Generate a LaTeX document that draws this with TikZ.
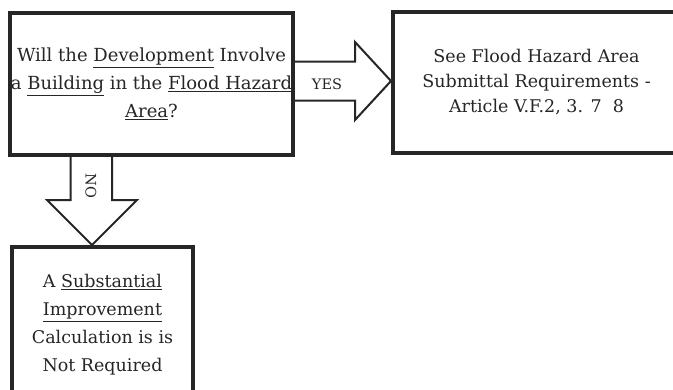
\documentclass[tikz,border=0pt]{standalone}
\usepackage{fontspec}
\setmainfont{DejaVu Serif}
\usetikzlibrary{calc,positioning}
\definecolor{ink}{HTML}{262626}
\tikzset{
  box/.style        = {draw=ink, line width=4pt, fill=white, align=center,
                       text=ink, inner sep=0pt, font=\fontsize{17.5}{28}\selectfont},
  blockarrow/.style = {draw=ink, line width=2pt, fill=white, line join=miter},
  arrowlabel/.style = {text=ink, font=\fontsize{14.5}{16}\selectfont},
}

\begin{document}
\begin{tikzpicture}[x=1pt,y=-1pt]
  \clip (0,0) rectangle (673,389);
  \fill[white] (0,0) rectangle (673,389);

  % decision and outcome boxes
  \node[box, minimum width=283pt, minimum height=142pt,
        font=\fontsize{18}{28}\selectfont] (question) at (151.5,84)
    {Will the \underline{Development} Involve\\
     a \underline{Building} in the \underline{Flood Hazard}\\
     \underline{Area}?};
  \node[box, minimum width=287pt, minimum height=141pt,
        font=\fontsize{17.5}{25}\selectfont] (floodreq) at (536.5,82.5)
    {See Flood Hazard Area\\ Submittal Requirements -\\ Article V.F.2, 3. 7~~8};
  \node[box, minimum width=181pt, minimum height=156pt] (subcalc) at (102.5,325)
    {A \underline{Substantial}\\ \underline{Improvement}\\ Calculation is is\\ Not Required};

  % yes arrow
  \draw[blockarrow] (question.east |- 0,61.5) -- (355,61.5) -- (355,42)
    -- (floodreq.west |- 0,81) -- (355,120) -- (355,100.5) -- (question.east |- 0,100.5);
  \node[arrowlabel] (yes) at (327,84) {YES};

  % no arrow
  \draw[blockarrow] (question.south -| 70.5,0) -- (70.5,200) -- (47,200)
    -- (subcalc.north -| 92,0) -- (137,200) -- (112,200) -- (question.south -| 112,0);
  \node[arrowlabel, rotate=-90] (no) at (91,186) {NO};
\end{tikzpicture}
\end{document}
